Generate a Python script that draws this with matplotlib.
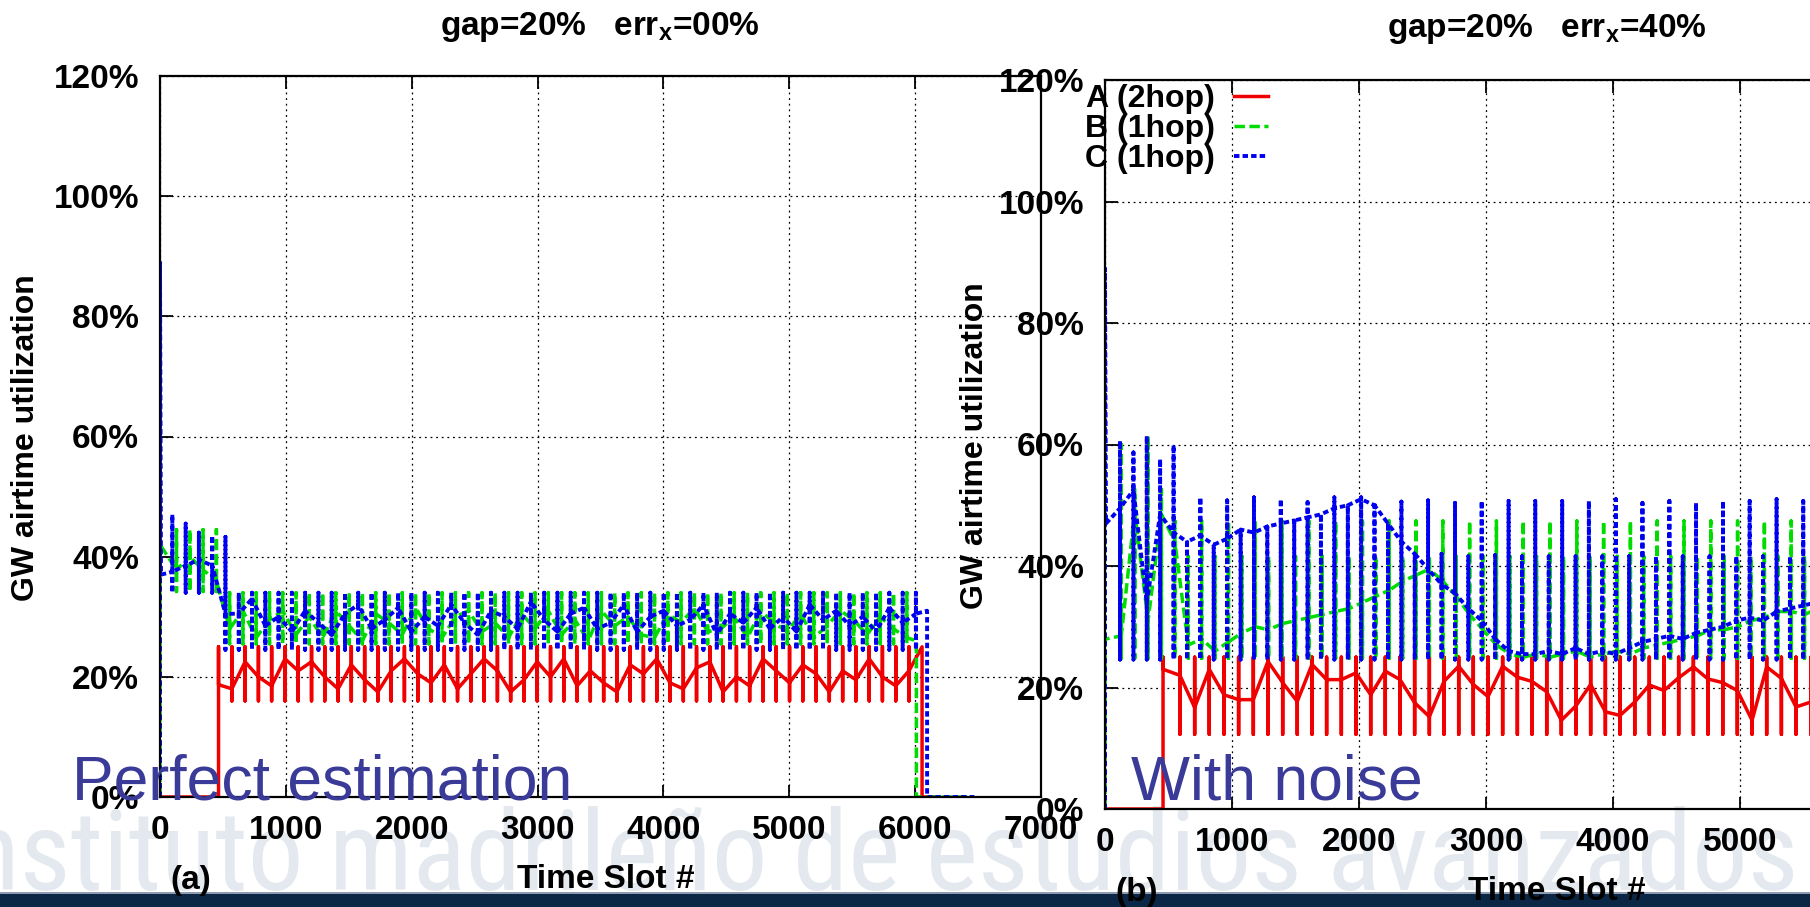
import numpy as np
import matplotlib.pyplot as plt
from matplotlib import font_manager
from matplotlib.patches import Rectangle

# ---------------- data (time in slots, airtime in %) ----------------
xticks = [0, 1000, 2000, 3000, 4000, 5000, 6000, 7000]
yticks = [0, 20, 40, 60, 80, 100, 120]
legend_labels = ['A (2hop)', 'B (1hop)', 'C (1hop)']

# (a) gap=20%, err=00% : update slots
slots_a = [43, 149, 254, 360, 465, 571, 676, 782, 887, 993, 1098, 1204, 1309, 1415,
           1520, 1626, 1731, 1837, 1942, 2048, 2153, 2259, 2364, 2470, 2575, 2681,
           2786, 2892, 2997, 3103, 3208, 3314, 3419, 3525, 3630, 3736, 3841, 3947,
           4052, 4158, 4263, 4369, 4474, 4580, 4685, 4791, 4896, 5002, 5107, 5213,
           5318, 5424, 5529, 5635, 5740, 5846, 5951]
shift_b_a = 88   # B updates lag A's grid
shift_c_a = 55   # C updates lag A's grid

red_a_head = [(0, 0.0), (465, 0.0)]
red_a_lvl = [18.7, 18.0, 22.5, 20.0, 18.5, 23.0, 21.0, 22.5, 20.0, 18.0,
             22.0, 19.5, 17.5, 21.0, 23.0, 20.5, 19.0, 22.0, 18.0, 20.5,
             23.0, 21.0, 17.5, 19.5, 22.5, 20.0, 23.0, 18.5, 21.0, 19.0,
             17.5, 22.0, 20.5, 23.0, 19.0, 18.0, 21.5, 22.5, 17.5, 20.0,
             18.5, 23.0, 21.0, 19.0, 22.0, 20.5, 17.5, 21.0, 19.5, 23.0,
             20.0, 18.5, 21.0]
red_a_lo, red_a_hi = 16.0, 25.0
red_a_tail = [(6055, 25.0), (6055, 0.0), (6140, 0.0)]

green_a_head = [(0, 0.0), (0, 42.0), (10, 41.7)]
green_a_lvl = [37.8, 40.0, 37.8, 36.0,
               28.0, 31.0, 26.5, 29.5, 31.0, 27.0, 30.0, 26.5, 31.0, 28.5,
               26.0, 30.5, 29.0, 27.0, 31.5, 28.0, 26.5, 30.0, 31.0, 27.5,
               29.0, 26.5, 30.5, 28.0, 31.0, 27.0, 29.5, 26.0, 31.0, 28.5,
               30.0, 27.0, 26.5, 30.5, 29.0, 31.5, 27.5, 28.0, 30.0, 26.5,
               31.0, 29.0, 27.5, 30.5, 26.5, 28.5, 31.0, 29.5, 27.0, 30.0,
               28.0, 26.5]
green_a_lo = [34.2] * 4 + [25.5] * 52
green_a_hi = [44.5] * 4 + [34.0] * 52
green_a_tail = [(6010, 26.0), (6010, 0.0), (6470, 0.0)]

blue_a_head = [(0, 0.0), (0, 89.0), (8, 37.0)]
blue_a_lvl = [37.5, 38.5, 39.5, 38.5, 30.5,
              30.5, 33.0, 28.5, 30.0, 27.5, 31.0, 29.0, 27.0, 30.5, 32.0,
              28.0, 29.5, 31.5, 27.5, 30.0, 28.5, 32.0, 29.0, 27.0, 31.0,
              30.0, 28.0, 32.5, 29.5, 27.5, 30.5, 31.5, 28.0, 29.0, 32.0,
              27.5, 30.0, 31.0, 28.5, 29.5, 32.0, 27.0, 30.5, 29.0, 31.5,
              28.0, 30.0, 27.5, 32.0, 29.5, 31.0, 28.5, 30.0, 27.5, 31.5,
              29.0, 30.5]
blue_a_lo = [34.0] * 4 + [24.5] * 53
blue_a_hi = [47.0, 45.5, 44.0, 43.5, 43.3] + [34.0] * 52
blue_a_tail = [(6095, 31.0), (6095, 0.0), (6470, 0.0)]

# (b) gap=20%, err=40%
slots_b = [118, 224, 329, 434, 540, 646, 751, 856, 962, 1068, 1173, 1278, 1384,
           1490, 1595, 1700, 1806, 1912, 2017, 2122, 2228, 2334, 2439, 2544, 2650,
           2756, 2861, 2966, 3072, 3178, 3283, 3388, 3494, 3600, 3705, 3810, 3916,
           4022, 4127, 4232, 4338, 4444, 4549, 4654, 4760, 4866, 4971, 5076, 5182,
           5288, 5393, 5498, 5604]
shift_b_b = 10
red_b_slots = [590, 706, 821, 937, 1052, 1168, 1283, 1399, 1514, 1630, 1745, 1861,
               1976, 2092, 2207, 2323, 2438, 2554, 2669, 2785, 2900, 3016, 3131,
               3247, 3362, 3478, 3593, 3709, 3824, 3940, 4055, 4171, 4286, 4402,
               4517, 4633, 4748, 4864, 4979, 5095, 5210, 5326, 5441, 5557, 5672]

red_b_head = [(0, 0.0), (457, 0.0), (457, 25.0), (457, 23.0)]
red_b_lvl = [22.0, 16.7, 23.0, 18.8, 18.0, 18.0, 24.3, 20.8, 17.7, 23.8,
             21.3, 21.3, 22.4, 18.8, 22.7, 21.3, 17.5, 15.2, 21.0, 23.5,
             20.5, 18.5, 23.5, 21.7, 21.0, 19.3, 14.6, 17.0, 20.5, 16.0,
             15.4, 17.6, 20.4, 19.5, 21.6, 23.4, 21.4, 20.8, 19.5, 14.6,
             23.4, 21.5, 16.8, 17.6, 20.0]
red_b_lo, red_b_hi = 12.3, 25.0

green_b_head = [(0, 0.0), (0, 28.0), (10, 28.0)]
green_b_lvl = [28.5, 49.0, 31.0, 48.5, 44.0,
               27.0, 28.0, 26.0, 27.5, 29.0, 30.0, 29.5, 30.5, 31.0, 31.5,
               32.0, 32.5, 33.0, 34.0, 35.0, 36.0, 37.5, 38.5, 39.5, 37.5,
               35.0, 32.0, 29.5, 27.0, 25.5, 25.0,
               25.5, 25.0, 25.5, 26.0, 25.0, 25.5, 26.0, 25.5,
               26.5, 27.0, 27.5, 28.0, 28.5, 29.5, 29.5, 30.0, 31.0, 31.5,
               32.5, 32.5, 32.0, 33.0]
green_b_lo = 24.8
green_b_hi = [60.0, 52.6, 61.4, 52.6, 47.4,
              41.6, 47.4, 41.6, 47.4, 41.6, 47.4, 41.6, 47.4, 41.6, 47.4, 41.6, 47.4,
              41.6, 47.4, 41.6, 47.4, 41.6, 47.4, 41.6, 47.4, 41.6, 47.4, 41.6, 47.4,
              41.6, 47.4, 41.6, 47.4, 41.6, 47.4, 41.6, 47.4, 41.6, 47.4, 41.6, 47.4,
              41.6, 47.4, 41.6, 47.4, 41.6, 47.4, 41.6, 47.4, 41.6, 47.4, 41.6, 47.4]

blue_b_head = [(0, 0.0), (0, 89.0), (8, 47.0)]
blue_b_lvl = [49.5, 52.5, 34.0, 48.5, 45.5, 44.0, 45.0, 43.5, 44.5, 46.0,
              45.5, 46.5, 47.0, 47.5, 48.0, 48.5, 49.5, 50.0, 51.0, 50.0,
              47.0, 44.0, 42.0, 39.5, 37.0, 35.5, 33.0, 31.0, 28.0, 26.0,
              25.5, 25.5, 26.0, 25.5, 26.5, 25.5, 26.0, 25.5, 26.5, 27.5,
              28.0, 28.5, 28.0, 29.0, 29.5, 30.0, 31.0, 31.5, 31.0, 32.5,
              33.0, 33.5, 34.0]
blue_b_lo = 24.6
blue_b_hi = [60.6, 58.7, 61.4, 57.6, 59.9,
             41.6, 51.3, 41.6, 50.8, 41.6, 51.3, 41.6, 51.0, 43.0, 50.5, 42.0, 51.3,
             42.0, 51.3, 50.5,
             42.0, 50.6, 42.0, 50.8, 42.0, 50.4, 41.6, 50.7, 41.8, 50.7, 41.6, 50.7,
             41.6, 50.7, 41.6, 50.7, 41.6, 51.0, 41.6, 50.4, 41.6, 50.7, 41.6, 50.4,
             41.6, 50.7, 41.6, 50.7, 41.6, 51.0, 41.6, 50.7, 41.6]


def trace(head, times, lvl, lo, hi, tail=()):
    # each update slot: a vertical jump lo..hi, joined to the next slot at 'lvl'
    n = len(lvl)
    lo = np.broadcast_to(lo, n)
    hi = np.broadcast_to(hi, n)
    xs = [p[0] for p in head]
    ys = [p[1] for p in head]
    for t, v, a, b in zip(times, lvl, lo, hi):
        xs += [t, t, t, t]
        ys += [v, a, b, v]
    xs += [p[0] for p in tail]
    ys += [p[1] for p in tail]
    return xs, ys


W, H = 1810, 907
plt.rcParams['font.family'] = ['Liberation Sans', 'DejaVu Sans']
plt.rcParams['font.weight'] = 'bold'
plt.rcParams['mathtext.fontset'] = 'custom'
plt.rcParams['mathtext.rm'] = 'Liberation Sans:bold'
plt.rcParams['mathtext.it'] = 'Liberation Sans:bold'

fig = plt.figure(figsize=(W / 100, H / 100), dpi=100)
fig.patch.set_facecolor('white')


def fx(px):
    return px / W


def fy(py):
    return 1 - py / H


# background slide pieces (condensed face if one is installed)
names = {f.name for f in font_manager.fontManager.ttflist}
wm_family, wm_size = 'Liberation Sans', 68
for fam, size in [('Liberation Sans Narrow', 83), ('Roboto Condensed', 80),
                  ('Open Sans Condensed', 82)]:
    if fam in names:
        wm_family, wm_size = fam, size
        break
fig.text(fx(1798), fy(890), 'Instituto madrileño de estudios avanzados', ha='right',
         va='baseline', fontsize=wm_size, family=wm_family, fontweight='normal',
         color='#e4e9f0', zorder=-2)
fig.patches.append(Rectangle((0, 0), 1, fy(893), transform=fig.transFigure,
                             facecolor='#0b2745', edgecolor='none', zorder=-1))
fig.patches.append(Rectangle((0, fy(894)), 1, 2 / H, transform=fig.transFigure,
                             facecolor='#8d9bb0', edgecolor='none', zorder=-1))

ax_a = fig.add_axes([fx(160), fy(797), fx(1041) - fx(160), fy(76) - fy(797)])
ax_b = fig.add_axes([fx(1105), fy(809), fx(1994) - fx(1105), fy(80) - fy(809)])

red = dict(color='#f00000', lw=2.5, ls='-')
green = dict(color='#00dc00', lw=2.5, ls=(0, (3, 1.3)))
blue = dict(color='#0000f0', lw=2.8, ls=(0, (1.4, 0.8)))

ax_a.plot(*trace(red_a_head, slots_a[4:], red_a_lvl, red_a_lo, red_a_hi, red_a_tail), **red)
ax_a.plot(*trace(green_a_head, np.array(slots_a) + shift_b_a, green_a_lvl, green_a_lo,
                 green_a_hi, green_a_tail), **green)
ax_a.plot(*trace(blue_a_head, np.array(slots_a) + shift_c_a, blue_a_lvl, blue_a_lo,
                 blue_a_hi, blue_a_tail), **blue)

lr, = ax_b.plot(*trace(red_b_head, red_b_slots, red_b_lvl, red_b_lo, red_b_hi), **red)
lg, = ax_b.plot(*trace(green_b_head, np.array(slots_b) + shift_b_b, green_b_lvl,
                       green_b_lo, green_b_hi), **green)
lb, = ax_b.plot(*trace(blue_b_head, slots_b, blue_b_lvl, blue_b_lo, blue_b_hi), **blue)

for ax in (ax_a, ax_b):
    ax.set_facecolor('none')
    ax.set_xlim(0, 7000)
    ax.set_ylim(0, 120)
    ax.set_xticks(xticks)
    ax.set_yticks(yticks)
    ax.set_yticklabels([f'{v}%' for v in yticks])
    ax.tick_params(direction='in', length=9, width=1.3, top=True, right=False,
                   labelsize=24)
    ax.tick_params(axis='x', pad=13)
    ax.tick_params(axis='y', pad=15)
    ax.grid(True, color='black', lw=0.9, ls=(0, (1.5, 3)))
    for s in ax.spines.values():
        s.set_linewidth(1.6)

ax_b.legend([lr, lg, lb], legend_labels, loc='upper left', frameon=False,
            markerfirst=False, fontsize=23, borderpad=0, borderaxespad=0,
            handlelength=1.05, handletextpad=0.6, labelspacing=0.0,
            bbox_to_anchor=(fx(1085), fy(84)), bbox_transform=fig.transFigure)

# titles, axis labels, captions
fig.text(fx(600), fy(27), 'gap=20%   err$_\\mathregular{x}$=00%', ha='center',
         va='center', fontsize=24)
fig.text(fx(1547), fy(29), 'gap=20%   err$_\\mathregular{x}$=40%', ha='center',
         va='center', fontsize=24)
fig.text(fx(26), fy(438), 'GW airtime utilization', rotation=90, ha='center',
         va='center', fontsize=23)
fig.text(fx(975), fy(446), 'GW airtime utilization', rotation=90, ha='center',
         va='center', fontsize=23)
fig.text(fx(606), fy(879), 'Time Slot #', ha='center', va='center', fontsize=24)
fig.text(fx(1557), fy(891), 'Time Slot #', ha='center', va='center', fontsize=24)
fig.text(fx(191), fy(880), '(a)', ha='center', va='center', fontsize=24)
fig.text(fx(1137), fy(893), '(b)', ha='center', va='center', fontsize=24)

fig.text(fx(72), fy(800), 'Perfect estimation', ha='left', va='baseline',
         fontsize=45, fontweight='normal', color='#3a3a98')
fig.text(fx(1131), fy(800), 'With noise', ha='left', va='baseline',
         fontsize=45, fontweight='normal', color='#3a3a98')

fig.savefig('out.png', dpi=100)
